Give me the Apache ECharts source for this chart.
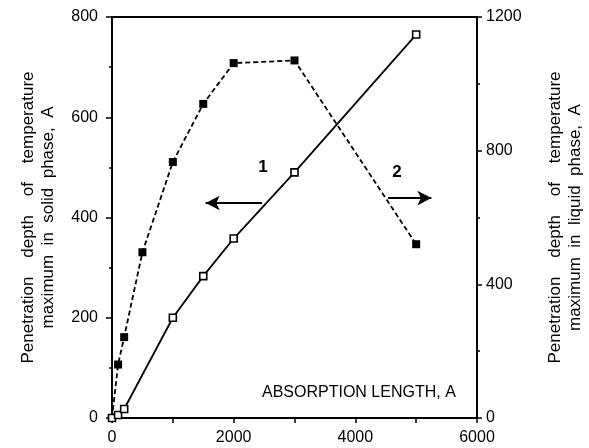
<!DOCTYPE html>
<html><head><meta charset="utf-8">
<script src="https://cdn.jsdelivr.net/npm/echarts@6/dist/echarts.min.js"></script>
<style>html,body{margin:0;padding:0;background:#fff}#c{width:589px;height:448px}</style>
</head><body><div id="c"></div>
<script>
const absorptionLength1 = [0, 100, 200, 1000, 1500, 2000, 3000, 5000];
const solidDepth = [0, 6, 18, 200, 283, 358, 490, 765];
const absorptionLength2 = [0, 100, 200, 500, 1000, 1500, 2000, 3000, 5000];
const liquidDepth = [0, 160, 242, 496, 766, 940, 1062, 1070, 520];
const xTicks = [0, 2000, 4000, 6000];
const leftTicks = [0, 200, 400, 600, 800];
const rightTicks = [0, 400, 800, 1200];

const font = 'Liberation Sans, Arial, sans-serif';
const chart = echarts.init(document.getElementById('c'), null, {renderer: 'canvas'});
const axisLine = {lineStyle: {color: '#000', width: 1.8}};
const lbl = {color: '#000', fontFamily: font, fontSize: 16, formatter: v => String(v)};
const nameStyle = {color: '#000', fontFamily: font, fontSize: 17, lineHeight: 20};

chart.setOption({
  animation: false,
  backgroundColor: '#fff',
  grid: {left: 112, right: 112, top: 17, bottom: 30, show: true, borderColor: '#000', borderWidth: 1.8,
         backgroundColor: 'transparent', outerBoundsMode: 'none', containLabel: false},
  xAxis: {
    type: 'value', min: xTicks[0], max: xTicks[xTicks.length - 1], interval: 2000,
    axisLine: axisLine, splitLine: {show: false},
    axisTick: {show: true, length: 5, lineStyle: {color: '#000', width: 1.5}},
    minorTick: {show: true, splitNumber: 2, length: 5, lineStyle: {color: '#000', width: 1.5}},
    axisLabel: Object.assign({margin: 12}, lbl)
  },
  yAxis: [{
    type: 'value', min: leftTicks[0], max: leftTicks[leftTicks.length - 1], interval: 200, position: 'left',
    axisLine: Object.assign({show: true}, axisLine), splitLine: {show: false},
    axisTick: {show: true, length: 6, lineStyle: {color: '#000', width: 1.5}},
    minorTick: {show: true, splitNumber: 2, length: 3, lineStyle: {color: '#000', width: 1.5}},
    axisLabel: Object.assign({margin: 14}, lbl),
    name: 'Penetration    depth    of    temperature\nmaximum  in  solid  phase,  A',
    nameLocation: 'middle', nameRotate: 90, nameGap: 54,
    nameTextStyle: nameStyle
  }, {
    type: 'value', min: rightTicks[0], max: rightTicks[rightTicks.length - 1], interval: 400, position: 'right',
    axisLine: Object.assign({show: true}, axisLine), splitLine: {show: false},
    axisTick: {show: true, length: 5, lineStyle: {color: '#000', width: 1.5}},
    minorTick: {show: true, splitNumber: 2, length: 3, lineStyle: {color: '#000', width: 1.5}},
    axisLabel: Object.assign({margin: 9}, lbl),
    name: 'Penetration    depth    of    temperature\nmaximum  in  liquid  phase,  A',
    nameLocation: 'middle', nameRotate: 90, nameGap: 68,
    nameTextStyle: nameStyle
  }],
  series: [{
    type: 'line', yAxisIndex: 0, z: 3,
    data: absorptionLength1.map((x, i) => [x, solidDepth[i]]),
    symbol: 'rect', symbolSize: 7,
    itemStyle: {color: '#fff', borderColor: '#000', borderWidth: 1.6},
    lineStyle: {color: '#000', width: 1.8, type: 'solid'},
    markLine: {
      silent: true, symbol: ['none', 'arrow'], symbolSize: [11, 14],
      lineStyle: {color: '#000', width: 1.8, type: 'solid'}, label: {show: false},
      data: [[{coord: [2466, 429]}, {coord: [1540, 429]}]]
    },
    markPoint: {
      silent: true, symbol: 'circle', symbolSize: 1, itemStyle: {color: 'transparent'},
      label: {show: true, color: '#000', fontFamily: font, fontSize: 17, fontWeight: 'bold', position: 'inside'},
      data: [{coord: [2482, 500], value: '1'}]
    }
  }, {
    type: 'line', yAxisIndex: 1, z: 2,
    data: absorptionLength2.map((x, i) => [x, liquidDepth[i]]),
    symbol: 'rect', symbolSize: 8,
    itemStyle: {color: '#000', borderColor: '#000', borderWidth: 0},
    lineStyle: {color: '#000', width: 1.8, type: [5, 3]},
    markLine: {
      silent: true, symbol: ['none', 'arrow'], symbolSize: [11, 14],
      lineStyle: {color: '#000', width: 1.8, type: 'solid'}, label: {show: false},
      data: [[{coord: [4537, 658]}, {coord: [5250, 658]}]]
    },
    markPoint: {
      silent: true, symbol: 'circle', symbolSize: 1, itemStyle: {color: 'transparent'},
      label: {show: true, color: '#000', fontFamily: font, fontSize: 17, fontWeight: 'bold', position: 'inside'},
      data: [{coord: [4685, 735], value: '2'}]
    }
  }],
  graphic: [{
    type: 'text', left: 262, top: 385,
    style: {text: 'ABSORPTION LENGTH, A', fill: '#000', font: '16px ' + font}
  }]
});
</script></body></html>
